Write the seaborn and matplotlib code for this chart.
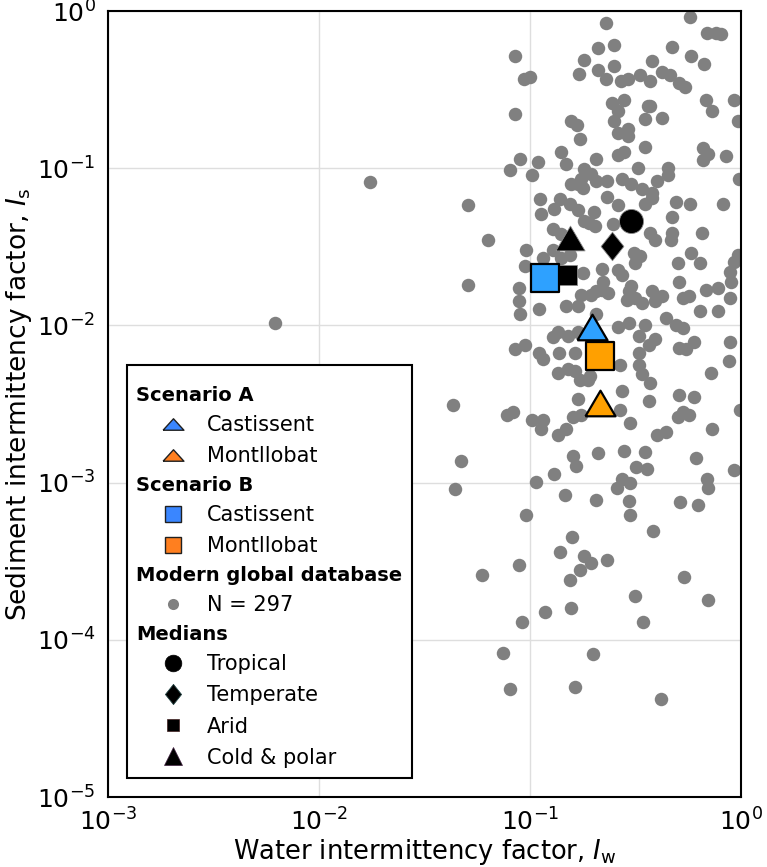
import numpy as np
import pandas as pd
import matplotlib
matplotlib.use("Agg")
import matplotlib.pyplot as plt
import seaborn as sns
from matplotlib.lines import Line2D
from matplotlib.markers import MarkerStyle
from matplotlib.ticker import LogLocator, NullFormatter
from matplotlib.offsetbox import AnchoredOffsetbox, VPacker, HPacker, TextArea, DrawingArea

# modern global database (Iw, Is)
iw_db = [0.23, 0.57, 0.69, 0.76, 0.80, 0.085, 0.21, 0.25, 0.47, 0.18, 0.25, 0.58, 0.67, 0.38,
         0.094, 0.10, 0.17, 0.21, 0.23, 0.27, 0.29, 0.33, 0.37, 0.42, 0.46, 0.51, 0.54, 0.68,
         0.73, 0.92, 0.97, 0.085, 0.245, 0.28, 0.26, 0.36, 0.37, 0.35, 0.42, 0.25, 0.156, 0.166,
         0.26, 0.29, 0.29, 0.173, 0.35, 0.26, 0.28, 0.66, 0.70, 0.66, 0.85, 0.14, 0.148, 0.206,
         0.090, 0.109, 0.080, 0.102, 0.325, 0.45, 0.45, 0.98, 0.18, 0.195, 0.175, 0.156, 0.169,
         0.178, 0.206, 0.231, 0.272, 0.30, 0.34, 0.38, 0.40,
         0.112, 0.139, 0.154, 0.169, 0.130, 0.113, 0.20, 0.19, 0.203, 0.18, 0.231, 0.262, 0.247,
         0.35, 0.38, 0.49, 0.57, 0.82, 0.47, 0.37, 0.39, 0.47, 0.465, 0.65, 0.0635, 0.128, 0.14,
         0.096, 0.115, 0.128, 0.095, 0.14, 0.154, 0.31, 0.33, 0.313, 0.58, 0.635, 0.50, 0.97,
         0.92, 0.218, 0.262, 0.272, 0.178, 0.51, 0.885, 0.90, 0.222, 0.218, 0.30, 0.293, 0.289,
         0.313, 0.34, 0.38, 0.42, 0.39, 0.089, 0.089, 0.090, 0.110, 0.148, 0.169, 0.175, 0.195,
         0.206, 0.234, 0.567, 0.53, 0.68, 0.78, 0.885, 0.635, 0.78, 0.44, 0.49, 0.53, 0.128,
         0.135, 0.151, 0.169, 0.262, 0.293, 0.35, 0.327, 0.39, 0.365, 0.206, 0.085, 0.095, 0.110,
         0.115, 0.137, 0.163, 0.135, 0.151, 0.163, 0.172, 0.192, 0.267, 0.327, 0.327, 0.34, 0.51,
         0.55, 0.60, 0.885, 0.88, 0.37, 0.72,
         0.189, 0.272, 0.169, 0.365, 0.51, 0.60, 0.99, 0.078, 0.083, 0.102, 0.115, 0.113, 0.159,
         0.175, 0.267, 0.298, 0.50, 0.53, 0.565, 0.136, 0.148, 0.40, 0.44, 0.73, 0.159, 0.165,
         0.21, 0.28, 0.35, 0.318, 0.358, 0.61, 0.925, 0.130, 0.107, 0.272, 0.298, 0.258, 0.69,
         0.695, 0.146, 0.206, 0.293, 0.296, 0.514, 0.626, 0.096, 0.383, 0.158, 0.138, 0.181,
         0.194, 0.172, 0.231, 0.089, 0.059, 0.534, 0.154,
         0.313, 0.695, 0.118, 0.156, 0.092, 0.342, 0.074, 0.198, 0.080, 0.163, 0.416,
         0.0062, 0.0175, 0.051, 0.051, 0.043, 0.047, 0.044]
is_db = [0.84, 0.91, 0.72, 0.72, 0.71, 0.52, 0.58, 0.61, 0.59, 0.49, 0.45, 0.52, 0.46, 0.48,
         0.37, 0.38, 0.40, 0.42, 0.37, 0.36, 0.37, 0.39, 0.36, 0.41, 0.39, 0.35, 0.33, 0.27,
         0.23, 0.27, 0.20, 0.22, 0.26, 0.27, 0.23, 0.25, 0.25, 0.205, 0.21, 0.20, 0.20, 0.187,
         0.167, 0.177, 0.16, 0.153, 0.136, 0.121, 0.126, 0.135, 0.124, 0.112, 0.119, 0.126, 0.106, 0.115,
         0.115, 0.109, 0.097, 0.091, 0.101, 0.101, 0.090, 0.085, 0.099, 0.092, 0.085, 0.079, 0.079,
         0.075, 0.083, 0.083, 0.085, 0.079, 0.0735, 0.070, 0.083,
         0.064, 0.064, 0.059, 0.054, 0.055, 0.051, 0.053, 0.045, 0.043, 0.046, 0.066, 0.058, 0.044,
         0.059, 0.065, 0.061, 0.059, 0.059, 0.049, 0.039, 0.035, 0.039, 0.035, 0.039, 0.035, 0.041, 0.038,
         0.030, 0.027, 0.030, 0.024, 0.027, 0.028, 0.029, 0.0275, 0.025, 0.029, 0.025, 0.025, 0.028,
         0.0255, 0.023, 0.0224, 0.021, 0.0215, 0.019, 0.022, 0.019, 0.019, 0.0168, 0.0177, 0.0165, 0.0145,
         0.0149, 0.0138, 0.0165, 0.0153, 0.0142, 0.0172, 0.0142, 0.0119, 0.0128, 0.0132, 0.0132, 0.0156, 0.0156,
         0.0165, 0.016, 0.0153, 0.0149, 0.0168, 0.0172, 0.0149, 0.0124, 0.0124, 0.0111, 0.010, 0.0096, 0.0084,
         0.0091, 0.0086, 0.0091, 0.0098, 0.0103, 0.010, 0.0086, 0.0082, 0.0075, 0.0119, 0.0071, 0.0075, 0.0067,
         0.0061, 0.0067, 0.0067, 0.0050, 0.0053, 0.0051, 0.0045, 0.0048, 0.0056, 0.0067, 0.0056, 0.0049, 0.0072,
         0.0071, 0.0078, 0.0078, 0.0059, 0.0043, 0.0050,
         0.0045, 0.0038, 0.0034, 0.0033, 0.0036, 0.0035, 0.0029, 0.0027, 0.0028, 0.0025, 0.0025, 0.0022, 0.0026,
         0.0027, 0.0029, 0.0024, 0.0026, 0.0028, 0.0027, 0.0020, 0.0022, 0.0020, 0.0021, 0.0022, 0.00147, 0.00128,
         0.00154, 0.0016, 0.00156, 0.00126, 0.00122, 0.00144, 0.0012, 0.00114, 0.00101, 0.00106, 0.00099, 0.00092, 0.00105,
         0.00092, 0.00084, 0.00078, 0.00076, 0.00062, 0.00075, 0.00072, 0.00062, 0.00049, 0.00045, 0.00036, 0.00034,
         0.00031, 0.00028, 0.00032, 0.00030, 0.00026, 0.00025, 0.00024,
         0.00019, 0.00018, 0.00015, 0.00016, 0.00013, 0.00013, 8.3e-5, 8.1e-5, 4.9e-5, 5.0e-5, 4.2e-5,
         0.0104, 0.082, 0.058, 0.018, 0.0031, 0.00138, 0.00091]

# climate medians
climates = ["Tropical", "Temperate", "Arid", "Cold & polar"]
med_iw = [0.30, 0.245, 0.15, 0.155]
med_is = [0.046, 0.032, 0.021, 0.036]

# study scenarios
scenarios = ["A Castissent", "A Montllobat", "B Castissent", "B Montllobat"]
scen_iw = [0.197, 0.215, 0.118, 0.215]
scen_is = [0.0098, 0.0032, 0.020, 0.0064]

sns.set_style("white")
plt.rcParams["font.family"] = ["DejaVu Sans"]
plt.rcParams["mathtext.default"] = "regular"
plt.rcParams["text.color"] = "black"
plt.rcParams["axes.labelcolor"] = "black"

BLUE, ORANGE = "#2ea1ff", "#ffa000"
LBLUE, LORANGE = "#3a86ff", "#ff7f1f"
tri_wide = MarkerStyle([(-1, -0.85), (1, -0.85), (0, 0.85), (-1, -0.85)])
tri_flat = MarkerStyle([(-1, -0.55), (1, -0.55), (0, 0.55), (-1, -0.55)])
diam = MarkerStyle([(0, 1), (0.8, 0), (0, -1), (-0.8, 0), (0, 1)])

fig = plt.figure(figsize=(7.67, 8.67), dpi=100)
ax = fig.add_axes([0.1408, 0.0807, 0.8255, 0.9066])

db = pd.DataFrame({"Iw": iw_db, "Is": is_db})
sns.scatterplot(data=db, x="Iw", y="Is", color="#808080", s=94, linewidth=0, ax=ax, zorder=2)

med_style = {"Tropical": ("o", 299), "Temperate": (diam, 420), "Arid": ("s", 225),
             "Cold & polar": (tri_wide, 440)}
for name, x, y in zip(climates, med_iw, med_is):
    m, s = med_style[name]
    sns.scatterplot(x=[x], y=[y], marker=m, s=s, color="black", edgecolor="#8a8a8a",
                    linewidth=0.6, ax=ax, zorder=3)

scen_style = {"A Castissent": (tri_wide, 470, BLUE), "A Montllobat": (tri_wide, 470, ORANGE),
              "B Castissent": ("s", 385, BLUE), "B Montllobat": ("s", 385, ORANGE)}
for name, x, y in zip(scenarios, scen_iw, scen_is):
    m, s, c = scen_style[name]
    sns.scatterplot(x=[x], y=[y], marker=m, s=s, color=c, edgecolor="black",
                    linewidth=1.6, ax=ax, zorder=4)

ax.set_xscale("log")
ax.set_yscale("log")
ax.set_xlim(1e-3, 1e0)
ax.set_ylim(1e-5, 1e0)
for axis in (ax.xaxis, ax.yaxis):
    axis.set_major_locator(LogLocator(base=10, numticks=20))
    axis.set_minor_locator(LogLocator(base=10, subs=np.arange(2, 10), numticks=20))
    axis.set_minor_formatter(NullFormatter())
ax.tick_params(which="both", direction="in", top=False, right=False, width=1.1,
               colors="black", labelcolor="black")
ax.tick_params(which="major", length=7, labelsize=18)
ax.tick_params(axis="y", which="major", pad=9)
ax.tick_params(axis="x", which="major", pad=8)
ax.tick_params(which="minor", length=4)
ax.grid(True, which="major", color="#dedede", linewidth=1)
ax.set_axisbelow(True)
for sp in ax.spines.values():
    sp.set_linewidth(1.5)
    sp.set_color("black")

ax.set_xlabel(r"Water intermittency factor, $\mathit{I}_\mathrm{w}$", fontsize=18.5, labelpad=1)
ax.set_ylabel(r"Sediment intermittency factor, $\mathit{I}_\mathrm{s}$", fontsize=19, labelpad=2)

# legend built from packed boxes so headings sit flush left
FS = 15
FSB = 14


def heading(txt):
    return TextArea(txt, textprops=dict(fontsize=FSB, fontweight="bold"))


def entry(txt, marker, size, color, edge, lw=1.0):
    da = DrawingArea(48, 16, 0, 0)
    da.add_artist(Line2D([26.5], [9], marker=marker, markersize=size, color=color,
                         markeredgecolor=edge, markeredgewidth=lw, linestyle="none"))
    return HPacker(children=[da, TextArea(txt, textprops=dict(fontsize=FS))],
                   align="center", pad=0, sep=3)


rows = [DrawingArea(1, 2, 0, 0),
        heading("Scenario A"),
        entry("Castissent", tri_flat, 15, LBLUE, "#202020"),
        entry("Montllobat", tri_flat, 15, LORANGE, "#202020"),
        heading("Scenario B"),
        entry("Castissent", "s", 12, LBLUE, "#202020"),
        entry("Montllobat", "s", 12, LORANGE, "#202020"),
        heading("Modern global database"),
        entry("N = 297", "o", 8, "#808080", "#808080", 0),
        heading("Medians"),
        entry("Tropical", "o", 12, "black", "black", 0.5),
        entry("Temperate", diam, 14.5, "black", "#1f4040", 0.6),
        entry("Arid", "s", 8.8, "black", "#402020", 0.5),
        entry("Cold & polar", "^", 13, "black", "#402040", 0.5)]
pack = VPacker(children=rows, align="left", pad=0, sep=6.4)
anc = AnchoredOffsetbox(loc="lower left", child=pack, pad=0.45, borderpad=0, frameon=True,
                        bbox_to_anchor=(0.030, 0.024), bbox_transform=ax.transAxes,
                        prop=dict(size=FS))
anc.patch.set_boxstyle("square", pad=0)
anc.patch.set_edgecolor("black")
anc.patch.set_linewidth(1.5)
anc.zorder = 6
ax.add_artist(anc)

fig.savefig("out.png", dpi=100)
